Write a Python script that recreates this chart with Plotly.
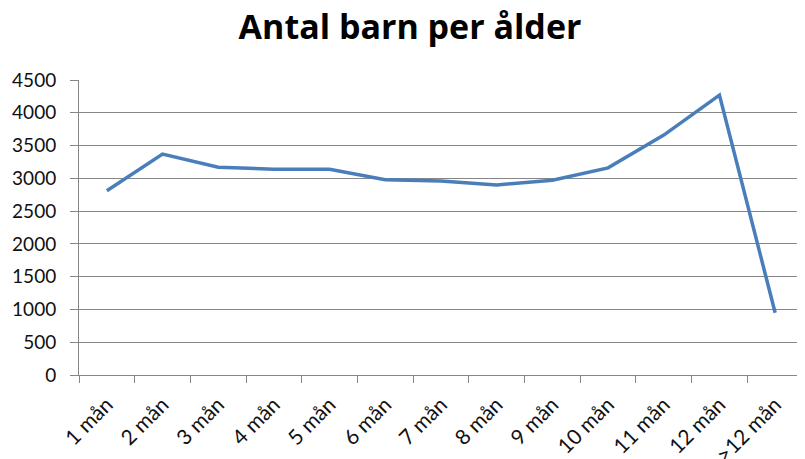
import plotly.graph_objects as go

categories = ["1 mån", "2 mån", "3 mån", "4 mån", "5 mån", "6 mån", "7 mån",
              "8 mån", "9 mån", "10 mån", "11 mån", "12 mån", ">12 mån"]
values = [2810, 3370, 3170, 3140, 3140, 2980, 2960, 2900, 2970, 3160, 3660, 4270, 950]
y_ticks = [0, 500, 1000, 1500, 2000, 2500, 3000, 3500, 4000, 4500]

fig = go.Figure(go.Scatter(
    x=categories, y=values, mode="lines",
    line=dict(color="#4A7EBB", width=3.5),
))

fig.update_layout(
    width=805, height=459,
    margin=dict(l=71, r=10, t=72, b=92),
    paper_bgcolor="white", plot_bgcolor="white",
    showlegend=False,
    title=dict(text="<b>Antal barn per ålder</b>", xref="container", x=0.4994,
               xanchor="center", y=1 - 19 / 459, yanchor="middle",
               font=dict(family="Open Sans", size=34, color="#000000")),
    font=dict(family="Lato", size=15, color="#000000"),
)
fig.update_xaxes(
    type="category", tickangle=-45, tickson="boundaries",
    ticks="outside", ticklen=7, tickcolor="#868686",
    showline=True, linecolor="#868686", linewidth=1,
    showgrid=False, range=[-0.5, 12.5], automargin=False,
    ticklabelstandoff=8,
    tickfont=dict(family="Lato", size=21, color="#111111"),
)
fig.update_yaxes(
    range=[0, 4500], tickvals=y_ticks,
    ticks="outside", ticklen=8, tickcolor="#868686",
    showline=True, linecolor="#868686", linewidth=1,
    showgrid=True, gridcolor="#868686", gridwidth=1,
    zeroline=False, automargin=False, ticklabelstandoff=10,
    tickfont=dict(family="Lato", size=19, color="#111111"),
)

fig.write_html("out.html")
